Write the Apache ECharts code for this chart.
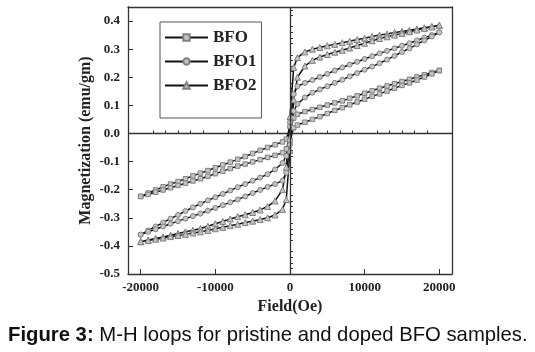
<!DOCTYPE html>
<html>
<head>
<meta charset="utf-8">
<script src="https://cdn.jsdelivr.net/npm/echarts@6/dist/echarts.min.js"></script>
<style>
  html, body { margin: 0; padding: 0; background: #fff; }
  #chart { width: 535px; height: 352px; }
</style>
</head>
<body>
<div id="chart"></div>
<script>
// field (Oe) where the loops were sampled
const field = [-20000, -19000, -18000, -17000, -16000, -15000, -14000, -13000, -12000, -11000,
  -10000, -9000, -8000, -7000, -6000, -5000, -4000, -3000, -2000, -1000, -500, 0,
  500, 1000, 2000, 3000, 4000, 5000, 6000, 7000, 8000, 9000, 10000,
  11000, 12000, 13000, 14000, 15000, 16000, 17000, 18000, 19000, 20000];

// magnetization (emu/gm): upper = descending branch, lower = ascending branch
const bfoUpper = [-0.224, -0.212, -0.201, -0.19, -0.18, -0.171, -0.161, -0.151, -0.141, -0.132,
  -0.122, -0.112, -0.102, -0.092, -0.082, -0.071, -0.06, -0.05, -0.04, -0.03, -0.02, 0.025,
  0.055, 0.068, 0.078, 0.085, 0.093, 0.101, 0.109, 0.116, 0.125, 0.134, 0.143,
  0.152, 0.161, 0.169, 0.177, 0.185, 0.193, 0.201, 0.209, 0.217, 0.224];
const bfoLower = [-0.224, -0.217, -0.209, -0.201, -0.193, -0.185, -0.177, -0.169, -0.161, -0.152,
  -0.143, -0.134, -0.125, -0.116, -0.109, -0.101, -0.093, -0.085, -0.078, -0.068, -0.055, -0.025,
  0.02, 0.03, 0.04, 0.05, 0.06, 0.071, 0.082, 0.092, 0.102, 0.112, 0.122,
  0.132, 0.141, 0.151, 0.161, 0.171, 0.18, 0.19, 0.201, 0.212, 0.224];

const bfo1Upper = [-0.36, -0.345, -0.331, -0.317, -0.303, -0.29, -0.276, -0.263, -0.25, -0.238,
  -0.227, -0.215, -0.203, -0.191, -0.18, -0.168, -0.157, -0.145, -0.128, -0.105, -0.08, 0.04,
  0.14, 0.168, 0.18, 0.19, 0.201, 0.212, 0.224, 0.235, 0.245, 0.255, 0.265,
  0.275, 0.285, 0.294, 0.303, 0.312, 0.321, 0.331, 0.341, 0.35, 0.36];
const bfo1Lower = [-0.36, -0.35, -0.341, -0.331, -0.321, -0.312, -0.303, -0.294, -0.285, -0.275,
  -0.265, -0.255, -0.245, -0.235, -0.224, -0.212, -0.201, -0.19, -0.18, -0.168, -0.14, -0.04,
  0.08, 0.105, 0.128, 0.145, 0.157, 0.168, 0.18, 0.191, 0.203, 0.215, 0.227,
  0.238, 0.25, 0.263, 0.276, 0.29, 0.303, 0.317, 0.331, 0.345, 0.36];

const bfo2Upper = [-0.385, -0.379, -0.374, -0.368, -0.362, -0.356, -0.35, -0.344, -0.338, -0.33,
  -0.321, -0.313, -0.304, -0.296, -0.289, -0.281, -0.272, -0.26, -0.24, -0.2, -0.12, 0.06,
  0.235, 0.27, 0.29, 0.30, 0.306, 0.312, 0.317, 0.323, 0.328, 0.334, 0.339,
  0.345, 0.35, 0.354, 0.359, 0.363, 0.367, 0.372, 0.376, 0.381, 0.385];
const bfo2Lower = [-0.385, -0.381, -0.376, -0.372, -0.367, -0.363, -0.359, -0.354, -0.35, -0.345,
  -0.339, -0.334, -0.328, -0.323, -0.317, -0.312, -0.306, -0.30, -0.29, -0.27, -0.235, -0.06,
  0.12, 0.2, 0.24, 0.26, 0.272, 0.281, 0.289, 0.296, 0.304, 0.313, 0.321,
  0.33, 0.338, 0.344, 0.35, 0.356, 0.362, 0.368, 0.374, 0.379, 0.385];

// tick positions
const xMajor = [-20000, -10000, 0, 10000, 20000];
const xMinor = [-21667, -18333, -16667, -15000, -13333, -11667, -8333, -6667, -5000, -3333, -1667,
  1667, 3333, 5000, 6667, 8333, 11667, 13333, 15000, 16667, 18333, 21667];
const yMajor = [-0.5, -0.4, -0.3, -0.2, -0.1, 0, 0.1, 0.2, 0.3, 0.4];
const yMinor = [-0.48, -0.46, -0.44, -0.42, -0.38, -0.36, -0.34, -0.32, -0.28, -0.26, -0.24, -0.22,
  -0.18, -0.16, -0.14, -0.12, -0.08, -0.06, -0.04, -0.02, 0.02, 0.04, 0.06, 0.08,
  0.12, 0.14, 0.16, 0.18, 0.22, 0.24, 0.26, 0.28, 0.32, 0.34, 0.36, 0.38, 0.42, 0.44];

// one loop: down from +H then back up from -H
function loop(upper, lower) {
  const pts = [];
  for (let i = field.length - 1; i >= 0; i--) pts.push([field[i], upper[i]]);
  for (let i = 0; i < field.length; i++) pts.push([field[i], lower[i]]);
  return pts;
}

const serif = 'Liberation Serif';
const xMin = -21700, xMax = 21700, yMin = -0.5, yMax = 0.45;
const grid = { left: 128, right: 83, top: 7, bottom: 78 };

function frameAxis(pos) {
  const horiz = pos === 'top' || pos === 'bottom';
  return {
    type: 'value', min: horiz ? xMin : yMin, max: horiz ? xMax : yMax,
    position: pos,
    axisLine: { show: true, onZero: false, lineStyle: { color: '#333', width: 1.3 } },
    axisTick: { show: false }, axisLabel: { show: false }, splitLine: { show: false }
  };
}

const chart = echarts.init(document.getElementById('chart'));

const markerStyle = { color: '#c4c4c4', borderColor: '#808080', borderWidth: 1 };
function makeSeries(name, symbol, size, upper, lower) {
  return {
    name: name, type: 'line', data: loop(upper, lower),
    xAxisIndex: 0, yAxisIndex: 0,
    symbol: symbol, symbolSize: size, showSymbol: true,
    itemStyle: markerStyle,
    lineStyle: { color: '#111', width: 1.5 },
    emphasis: { disabled: true },
    animation: false
  };
}

const series = [
  makeSeries('BFO', 'rect', 4.5, bfoUpper, bfoLower),
  makeSeries('BFO1', 'circle', 5, bfo1Upper, bfo1Lower),
  makeSeries('BFO2', 'triangle', 6, bfo2Upper, bfo2Lower)
];
series[0].markLine = {
  silent: true, symbol: 'none', animation: false,
  label: { show: false },
  lineStyle: { color: '#333', type: 'solid', width: 1.3 },
  data: [{ xAxis: 0 }, { yAxis: 0 }]
};

chart.setOption({
  animation: false,
  backgroundColor: '#fff',
  grid: grid,
  legend: {
    orient: 'vertical', left: 160, top: 22,
    padding: [7, 5, 24, 4], itemGap: 7,
    itemWidth: 43, itemHeight: 8,
    borderColor: '#555', borderWidth: 1,
    textStyle: { fontFamily: serif, fontWeight: 'bold', fontSize: 17, color: '#222' },
    data: ['BFO', 'BFO1', 'BFO2']
  },
  xAxis: [
    {
      type: 'value', min: xMin, max: xMax, position: 'bottom',
      name: 'Field(Oe)', nameLocation: 'middle', nameGap: 23,
      nameTextStyle: { fontFamily: serif, fontWeight: 'bold', fontSize: 16, color: '#222' },
      axisLine: { show: true, onZero: false, lineStyle: { color: '#333', width: 1.3 } },
      axisTick: { inside: true, length: 5, customValues: xMajor, lineStyle: { color: '#333' } },
      axisLabel: {
        customValues: xMajor, margin: 7, fontFamily: serif, fontWeight: 'bold', fontSize: 13, color: '#222',
        formatter: v => String(v)
      },
      splitLine: { show: false }
    },
    {
      type: 'value', min: xMin, max: xMax, position: 'bottom',
      axisLine: { show: false },
      axisTick: { inside: true, length: 3, customValues: xMinor, lineStyle: { color: '#333' } },
      axisLabel: { show: false }, splitLine: { show: false }
    },
    frameAxis('top')
  ],
  yAxis: [
    {
      type: 'value', min: yMin, max: yMax, position: 'left',
      name: 'Magnetization (emu/gm)', nameLocation: 'middle', nameGap: 34,
      nameMoveOverlap: false,
      nameTextStyle: { fontFamily: serif, fontWeight: 'bold', fontSize: 16, color: '#222' },
      axisLine: { show: true, onZero: false, lineStyle: { color: '#333', width: 1.3 } },
      axisTick: { inside: true, length: 5, customValues: yMajor, lineStyle: { color: '#333' } },
      axisLabel: {
        customValues: yMajor, margin: 8, fontFamily: serif, fontWeight: 'bold', fontSize: 13, color: '#222',
        formatter: v => v.toFixed(1)
      },
      splitLine: { show: false }
    },
    {
      type: 'value', min: yMin, max: yMax, position: 'left',
      axisLine: { show: false },
      axisTick: { inside: true, length: 3, customValues: yMinor, lineStyle: { color: '#333' } },
      axisLabel: { show: false }, splitLine: { show: false }
    },
    frameAxis('right')
  ],
  series: series,
  graphic: [{
    type: 'text', left: 8, top: 325,
    style: {
      text: '{b|Figure 3:} M-H loops for pristine and doped BFO samples.',
      font: '20.3px "Liberation Sans"', fill: '#111',
      rich: { b: { font: 'bold 20.3px "Liberation Sans"', fill: '#111' } }
    }
  }]
});
</script>
</body>
</html>
